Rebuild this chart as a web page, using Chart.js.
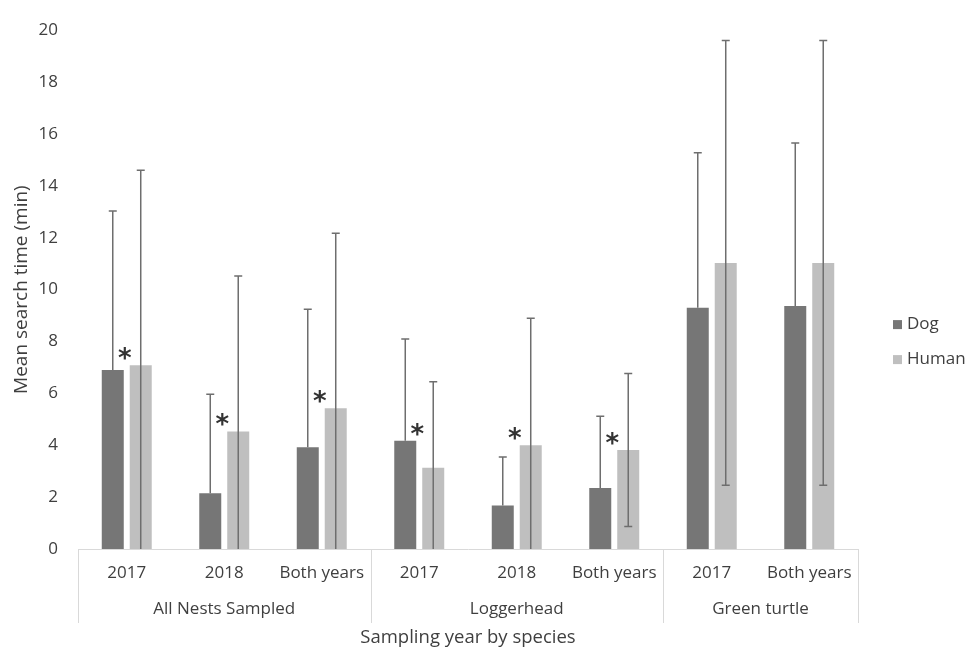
<!DOCTYPE html>
<html>
<head>
<meta charset="utf-8">
<script src="https://cdn.jsdelivr.net/npm/chart.js@4/dist/chart.umd.min.js"></script>
<style>
	html, body { margin:0; padding:0; background:#fff; }
	#wrap { position:relative; width:976px; height:653px; }
</style>
</head>
<body>
<div id="wrap"><canvas id="c"></canvas></div>
<script>
const categories = ['2017', '2018', 'Both years', '2017', '2018', 'Both years', '2017', 'Both years']
const groups = ['All Nests Sampled', 'Loggerhead', 'Green turtle']
const groupSizes = [3, 3, 2]

const dogMean = [6.9, 2.15, 3.92, 4.17, 1.68, 2.35, 9.3, 9.37]
const dogErr = [6.13, 3.82, 5.32, 3.93, 1.87, 2.77, 5.98, 6.28]
const humanMean = [7.08, 4.53, 5.43, 3.13, 4.0, 3.82, 11.03, 11.03]
const humanErr = [7.52, 5.99, 6.74, 3.32, 4.9, 2.95, 8.57, 8.57]
const significant = [true, true, true, true, true, true, false, false]

const yMin = 0
const yMax = 20
const yStep = 2

const FONT = '"Open Sans", sans-serif'
const TXT = '#3f3f3f'
const LINE = '#d9d9d9'

// error bars; the lower half is hidden inside the dark bars in the original
const errorBars = {
	id: 'errorBars',
	afterDatasetsDraw: chart => {
		const ctx = chart.ctx, y = chart.scales.y
		chart.data.datasets.forEach((ds, i) => {
			chart.getDatasetMeta(i).data.forEach((bar, j) => {
				const v = ds.data[j], e = ds.err[j]
				const hi = y.getPixelForValue(v + e)
				const low = ds.errLower ? Math.max(v - e, yMin) : v
				const lo = y.getPixelForValue(low)
				ctx.save()
				ctx.strokeStyle = '#6e6e6e'
				ctx.lineWidth = 1.5
				ctx.beginPath()
				ctx.moveTo(bar.x, lo)
				ctx.lineTo(bar.x, hi)
				ctx.moveTo(bar.x - 4, hi)
				ctx.lineTo(bar.x + 4, hi)
				if (ds.errLower && v - e > yMin) {
					ctx.moveTo(bar.x - 4, lo)
					ctx.lineTo(bar.x + 4, lo)
				}
				ctx.stroke()
				ctx.restore()
			})
		})
	}
}

// asterisks over the significant pairs
const stars = {
	id: 'stars',
	afterDatasetsDraw: chart => {
		const ctx = chart.ctx, x = chart.scales.x, y = chart.scales.y
		ctx.save()
		ctx.fillStyle = '#333'
		ctx.font = 'bold 26px "DejaVu Sans"'
		ctx.textAlign = 'center'
		ctx.textBaseline = 'alphabetic'
		significant.forEach((s, j) => {
			if (!s) return
			const top = y.getPixelForValue(Math.max(dogMean[j], humanMean[j]))
			ctx.fillText('*', x.getPixelForValue(j) - 2, top + 2)
		})
		ctx.restore()
	}
}

// group separators, group names and legend
const extras = {
	id: 'extras',
	afterDraw: chart => {
		const ctx = chart.ctx, x = chart.scales.x, ca = chart.chartArea
		const w = (x.right - x.left) / categories.length
		ctx.save()
		ctx.strokeStyle = LINE
		ctx.lineWidth = 1
		ctx.fillStyle = TXT
		ctx.font = '17px ' + FONT
		ctx.textAlign = 'center'
		ctx.textBaseline = 'middle'
		let start = 0
		const edges = [0]
		groups.forEach((g, k) => {
			const end = start + groupSizes[k] - 1
			ctx.fillText(g, (x.getPixelForValue(start) + x.getPixelForValue(end)) / 2, 609)
			start = end + 1
			edges.push(start)
		})
		ctx.beginPath()
		edges.forEach(i => {
			const px = Math.round(x.left + i * w) + 0.5
			ctx.moveTo(px, ca.bottom)
			ctx.lineTo(px, 623)
		})
		ctx.stroke()

		const cy = (ca.top + ca.bottom) / 2 + 35
		ctx.textAlign = 'left'
		chart.data.datasets.forEach((ds, i) => {
			ctx.fillStyle = ds.backgroundColor
			ctx.fillRect(ca.right + 35, cy + i * 35 - 4.5, 9, 9)
			ctx.fillStyle = TXT
			ctx.fillText(ds.label, ca.right + 49, cy + i * 35)
		})
		ctx.restore()
	}
}

new Chart(document.getElementById('c'), {
	type: 'bar',
	data: {
		labels: categories,
		datasets: [{
			label: 'Dog',
			data: dogMean,
			err: dogErr,
			errLower: false,
			backgroundColor: '#767676',
			categoryPercentage: 0.574,
			barPercentage: 0.786,
		},
		{
			label: 'Human',
			data: humanMean,
			err: humanErr,
			errLower: true,
			backgroundColor: '#bfbfbf',
			categoryPercentage: 0.574,
			barPercentage: 0.786,
		}]
	},
	options: {
		responsive: true,
		maintainAspectRatio: false,
		animation: false,
		layout: { padding: { top: 18, right: 118, bottom: 0, left: 0 } },
		plugins: {
			legend: { display: false },
			tooltip: { enabled: false },
		},
		scales: {
			x: {
				grid: { display: false, drawTicks: false },
				border: { display: true, color: LINE, width: 1 },
				ticks: { color: TXT, font: { family: FONT, size: 17 }, padding: 14, maxRotation: 0, autoSkip: false },
				title: { display: true, text: 'Sampling year by species', color: TXT, font: { family: FONT, size: 18.5 }, padding: { top: 0, bottom: 4 } },
				afterFit: s => { s.height = 104 },
			},
			y: {
				min: yMin,
				max: yMax,
				grid: { display: false, drawTicks: false },
				border: { display: false },
				ticks: { stepSize: yStep, color: TXT, font: { family: FONT, size: 17 }, padding: 20 },
				title: { display: true, text: 'Mean search time (min)', color: TXT, font: { family: FONT, size: 19 }, padding: { top: 10.6, bottom: 0 } },
				afterFit: s => { s.width = 78 },
			}
		}
	},
	plugins: [errorBars, stars, extras]
})
</script>
</body>
</html>
